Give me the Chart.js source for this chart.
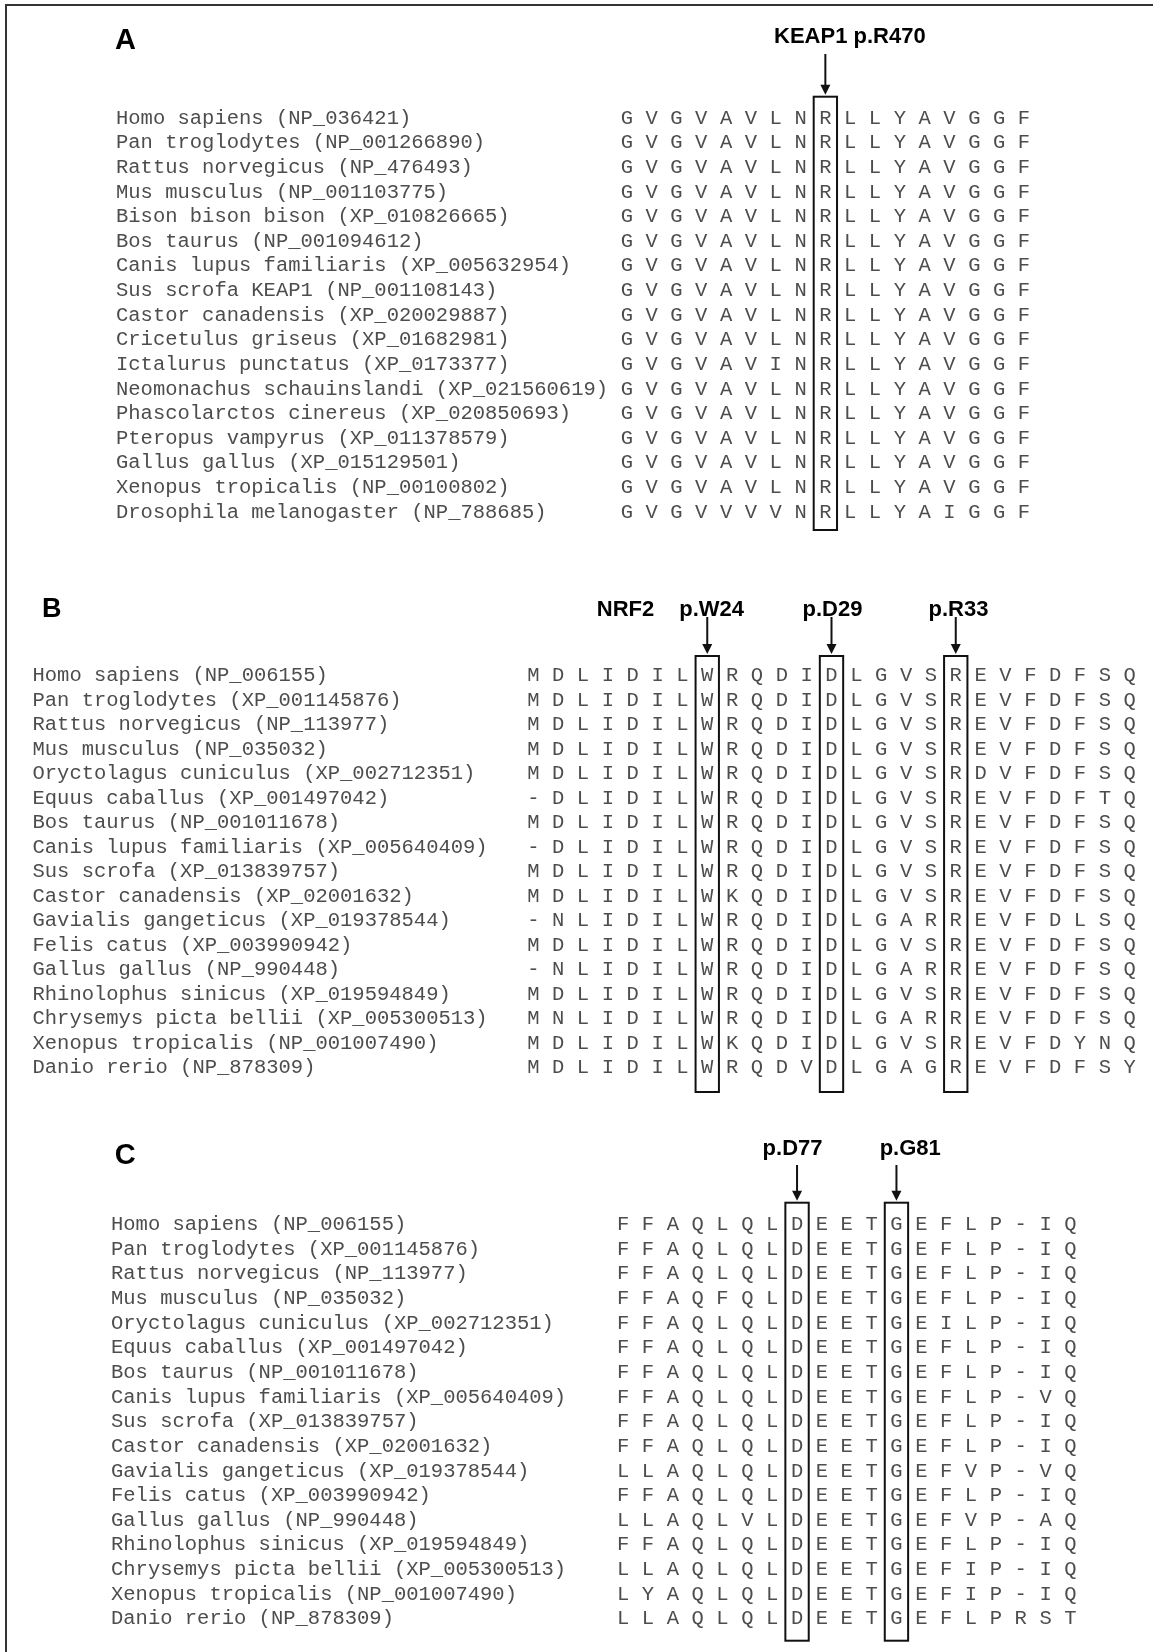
<!DOCTYPE html>
<html>
<head>
<meta charset="utf-8">
<script src="https://cdn.jsdelivr.net/npm/chart.js@4.4.1/dist/chart.umd.min.js"></script>
<style>
  html, body { margin: 0; padding: 0; background: #fff; }
  body { width: 1153px; height: 1652px; position: relative; overflow: hidden; }
  #frame { position: absolute; left: 5px; top: 4px; width: 1160px; height: 1660px;
           border-top: 2px solid #333; border-left: 2px solid #333; }
  canvas { position: absolute; left: 0; }
</style>
</head>
<body>
<div id="frame"></div>
<canvas id="panelA" width="1153" height="560" style="top:0px"></canvas>
<canvas id="panelB" width="1153" height="550" style="top:560px"></canvas>
<canvas id="panelC" width="1153" height="542" style="top:1110px"></canvas>
<script>
// Panel A - KEAP1
const speciesA = [
  'Homo sapiens (NP_036421)',
  'Pan troglodytes (NP_001266890)',
  'Rattus norvegicus (NP_476493)',
  'Mus musculus (NP_001103775)',
  'Bison bison bison (XP_010826665)',
  'Bos taurus (NP_001094612)',
  'Canis lupus familiaris (XP_005632954)',
  'Sus scrofa KEAP1 (NP_001108143)',
  'Castor canadensis (XP_020029887)',
  'Cricetulus griseus (XP_01682981)',
  'Ictalurus punctatus (XP_0173377)',
  'Neomonachus schauinslandi (XP_021560619)',
  'Phascolarctos cinereus (XP_020850693)',
  'Pteropus vampyrus (XP_011378579)',
  'Gallus gallus (XP_015129501)',
  'Xenopus tropicalis (NP_00100802)',
  'Drosophila melanogaster (NP_788685)'
];
const seqA = [
  'GVGVAVLNRLLYAVGGF',
  'GVGVAVLNRLLYAVGGF',
  'GVGVAVLNRLLYAVGGF',
  'GVGVAVLNRLLYAVGGF',
  'GVGVAVLNRLLYAVGGF',
  'GVGVAVLNRLLYAVGGF',
  'GVGVAVLNRLLYAVGGF',
  'GVGVAVLNRLLYAVGGF',
  'GVGVAVLNRLLYAVGGF',
  'GVGVAVLNRLLYAVGGF',
  'GVGVAVINRLLYAVGGF',
  'GVGVAVLNRLLYAVGGF',
  'GVGVAVLNRLLYAVGGF',
  'GVGVAVLNRLLYAVGGF',
  'GVGVAVLNRLLYAVGGF',
  'GVGVAVLNRLLYAVGGF',
  'GVGVVVVNRLLYAIGGF'
];
const markedA = [8];
const labelsA = ['KEAP1 p.R470'];

// Panels B and C - NRF2
const speciesNRF2 = [
  'Homo sapiens (NP_006155)',
  'Pan troglodytes (XP_001145876)',
  'Rattus norvegicus (NP_113977)',
  'Mus musculus (NP_035032)',
  'Oryctolagus cuniculus (XP_002712351)',
  'Equus caballus (XP_001497042)',
  'Bos taurus (NP_001011678)',
  'Canis lupus familiaris (XP_005640409)',
  'Sus scrofa (XP_013839757)',
  'Castor canadensis (XP_02001632)',
  'Gavialis gangeticus (XP_019378544)',
  'Felis catus (XP_003990942)',
  'Gallus gallus (NP_990448)',
  'Rhinolophus sinicus (XP_019594849)',
  'Chrysemys picta bellii (XP_005300513)',
  'Xenopus tropicalis (NP_001007490)',
  'Danio rerio (NP_878309)'
];
const seqB = [
  'MDLIDILWRQDIDLGVSREVFDFSQ',
  'MDLIDILWRQDIDLGVSREVFDFSQ',
  'MDLIDILWRQDIDLGVSREVFDFSQ',
  'MDLIDILWRQDIDLGVSREVFDFSQ',
  'MDLIDILWRQDIDLGVSRDVFDFSQ',
  '-DLIDILWRQDIDLGVSREVFDFTQ',
  'MDLIDILWRQDIDLGVSREVFDFSQ',
  '-DLIDILWRQDIDLGVSREVFDFSQ',
  'MDLIDILWRQDIDLGVSREVFDFSQ',
  'MDLIDILWKQDIDLGVSREVFDFSQ',
  '-NLIDILWRQDIDLGARREVFDLSQ',
  'MDLIDILWRQDIDLGVSREVFDFSQ',
  '-NLIDILWRQDIDLGARREVFDFSQ',
  'MDLIDILWRQDIDLGVSREVFDFSQ',
  'MNLIDILWRQDIDLGARREVFDFSQ',
  'MDLIDILWKQDIDLGVSREVFDYNQ',
  'MDLIDILWRQDVDLGAGREVFDFSY'
];
const markedB = [7, 12, 17];
const labelsB = ['p.W24', 'p.D29', 'p.R33'];

const seqC = [
  'FFAQLQLDEETGEFLP-IQ',
  'FFAQLQLDEETGEFLP-IQ',
  'FFAQLQLDEETGEFLP-IQ',
  'FFAQFQLDEETGEFLP-IQ',
  'FFAQLQLDEETGEILP-IQ',
  'FFAQLQLDEETGEFLP-IQ',
  'FFAQLQLDEETGEFLP-IQ',
  'FFAQLQLDEETGEFLP-VQ',
  'FFAQLQLDEETGEFLP-IQ',
  'FFAQLQLDEETGEFLP-IQ',
  'LLAQLQLDEETGEFVP-VQ',
  'FFAQLQLDEETGEFLP-IQ',
  'LLAQLVLDEETGEFVP-AQ',
  'FFAQLQLDEETGEFLP-IQ',
  'LLAQLQLDEETGEFIP-IQ',
  'LYAQLQLDEETGEFIP-IQ',
  'LLAQLQLDEETGEFLPRST'
];
const markedC = [7, 11];
const labelsC = ['p.D77', 'p.G81'];

const MONO = '20.5px "Liberation Mono", "Courier New", monospace';
const BOLD = '"Liberation Sans", Arial, sans-serif';
const GREY = '#4d4d4d';
const CAP = 6.7;

// Draws names, residues, boxes, arrows and labels on top of the (invisible) points
const alignmentPlugin = {
  id: 'alignment',
  afterDatasetsDraw(chart, args, p) {
    const { ctx } = chart;
    const x = chart.scales.x, y = chart.scales.y;
    const off = p.top;
    ctx.save();

    ctx.fillStyle = '#000';
    ctx.textAlign = 'left';
    ctx.textBaseline = 'alphabetic';
    ctx.font = 'bold ' + p.tagSize + 'px ' + BOLD;
    ctx.fillText(p.tag, p.tagX, p.tagBase - off);

    ctx.fillStyle = GREY;
    ctx.font = MONO;
    p.names.forEach((n, i) => ctx.fillText(n, p.namesX, y.getPixelForValue(i) + CAP));

    ctx.textAlign = 'center';
    const pts = chart.getDatasetMeta(0).data;
    const raw = chart.data.datasets[0].data;
    pts.forEach((pt, i) => ctx.fillText(raw[i].aa, pt.x, pt.y + CAP));

    const boxTop = p.boxTop - off, boxBottom = p.boxBottom - off;
    ctx.strokeStyle = '#111';
    ctx.lineWidth = 2;
    p.marked.forEach((c, k) => {
      const cx = x.getPixelForValue(c);
      const hw = Math.abs(x.getPixelForValue(c + 0.47) - cx);
      ctx.strokeRect(cx - hw, boxTop, hw * 2, boxBottom - boxTop);

      // arrow
      ctx.beginPath();
      ctx.moveTo(cx, p.arrowTop - off);
      ctx.lineTo(cx, boxTop - 10);
      ctx.stroke();
      ctx.fillStyle = '#111';
      ctx.beginPath();
      ctx.moveTo(cx - 5, boxTop - 12);
      ctx.lineTo(cx + 5, boxTop - 12);
      ctx.lineTo(cx, boxTop - 2);
      ctx.closePath();
      ctx.fill();

      // label
      ctx.fillStyle = '#000';
      ctx.font = 'bold 22px ' + BOLD;
      ctx.fillText(p.labels[k], cx + p.labelShift[k], p.labelBase - off);
    });

    if (p.gene) {
      ctx.font = 'bold 22px ' + BOLD;
      ctx.fillText(p.gene, p.geneX, p.labelBase - off);
    }
    ctx.restore();
  }
};

function makePanel(id, names, seqs, marked, labels, geo) {
  const canvas = document.getElementById(id);
  const W = canvas.width, H = canvas.height;
  const nCols = seqs[0].length, nRows = seqs.length;
  const points = [];
  seqs.forEach((s, r) => {
    s.split('').forEach((aa, c) => points.push({ x: c, y: r, aa: aa }));
  });
  const left = geo.col0 - geo.dx / 2;
  const right = left + nCols * geo.dx;
  const top = geo.row0 - geo.dy / 2 - geo.top;
  const bottom = top + nRows * geo.dy;

  return new Chart(canvas.getContext('2d'), {
    type: 'scatter',
    data: { datasets: [{ data: points, pointRadius: 0, pointHoverRadius: 0 }] },
    options: {
      responsive: false,
      animation: false,
      events: [],
      layout: { padding: { left: left, right: W - right, top: top, bottom: H - bottom } },
      scales: {
        x: { type: 'linear', display: false, min: -0.5, max: nCols - 0.5 },
        y: { type: 'linear', display: false, reverse: true, min: -0.5, max: nRows - 0.5 }
      },
      plugins: {
        legend: { display: false },
        tooltip: { enabled: false },
        alignment: Object.assign({ names: names, marked: marked, labels: labels }, geo)
      }
    },
    plugins: [alignmentPlugin]
  });
}

const chartA = makePanel('panelA', speciesA, seqA, markedA, labelsA, {
  top: 0, namesX: 116, col0: 626.8, dx: 24.82, row0: 117, dy: 24.62,
  boxTop: 96.7, boxBottom: 530, arrowTop: 54, labelBase: 43, labelShift: [24.5],
  tag: 'A', tagX: 115, tagBase: 49, tagSize: 29
});

const chartB = makePanel('panelB', speciesNRF2, seqB, markedB, labelsB, {
  top: 560, namesX: 32.5, col0: 533.3, dx: 24.85, row0: 674.3, dy: 24.52,
  boxTop: 656, boxBottom: 1092, arrowTop: 617, labelBase: 616, labelShift: [4.4, 1, 2.7],
  gene: 'NRF2', geneX: 625.5,
  tag: 'B', tagX: 42, tagBase: 616.5, tagSize: 27
});

const chartC = makePanel('panelC', speciesNRF2, seqC, markedC, labelsC, {
  top: 1110, namesX: 111, col0: 623.1, dx: 24.85, row0: 1223.3, dy: 24.65,
  boxTop: 1202.7, boxBottom: 1640.7, arrowTop: 1165, labelBase: 1155, labelShift: [-4.5, 13.8],
  tag: 'C', tagX: 114.8, tagBase: 1164, tagSize: 29
});
</script>
</body>
</html>
